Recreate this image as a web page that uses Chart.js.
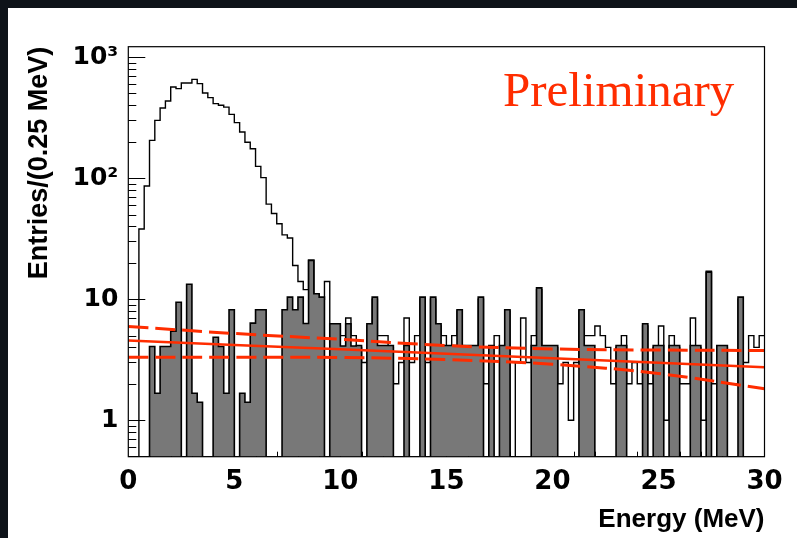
<!DOCTYPE html>
<html>
<head>
<meta charset="utf-8">
<script src="https://cdn.jsdelivr.net/npm/chart.js@4.4.1/dist/chart.umd.min.js"></script>
<style>
  html, body { margin: 0; padding: 0; background: #0e1319; }
  #frame { position: absolute; left: 8px; top: 8px; width: 789px; height: 530px; background: #ffffff; }
  canvas { display: block; }
</style>
</head>
<body>
<div id="frame"><canvas id="chart" width="789" height="530"></canvas></div>
<script>
// histogram binning (MeV)
const binWidth = 0.25;
const nBins = 120;

// all entries per 0.25 MeV bin (open histogram)
const totalCounts = [
  0, 0, 38, 86, 205, 300, 379, 433, 565, 548,
  610, 610, 654, 603, 504, 462, 412, 400, 386, 336,
  287, 240, 198, 175, 125, 101, 61, 51, 42, 34,
  32, 19, 14, 12, 21, 11, 10, 14, 6, 6,
  5, 7, 5, 4, 3, 6, 10, 5, 5, 4,
  2, 3, 7, 3, 5, 10, 3, 10, 6, 5,
  4, 5, 8, 4, 4, 4, 10, 2, 4, 5,
  4, 8, 0, 3, 7, 3, 5, 12, 4, 4,
  4, 2, 3, 1, 3, 8, 5, 5, 6, 5,
  4, 2, 4, 5, 2, 3, 2, 6, 2, 4,
  6, 1, 5, 4, 2, 2, 7, 4, 1, 17,
  2, 4, 4, 2, 2, 10, 3, 5, 4, 5
];

// filled (grey) histogram
const grayCounts = [
  0, 0, 0, 0, 4.07, 1.67, 4.07, 4.07, 5.44, 9.44,
  0, 13.3, 1.67, 1.41, 0, 0, 4.85, 4.07, 1.67, 8.17,
  0, 1.67, 1.41, 6.34, 8.17, 8.17, 0, 0, 0, 8.17,
  10.4, 8.17, 10.4, 6.3, 20.9, 11.1, 10.4, 0, 6.26, 6.26,
  4.1, 6.26, 4.1, 4.14, 0, 6.26, 10.4, 4.14, 4.14, 4.14,
  0, 0, 4.14, 0, 0, 10.4, 0, 10.4, 6.26, 4.14,
  4.14, 4.14, 8.17, 4.14, 4.14, 4.14, 10.4, 0, 4.14, 0,
  4.14, 8.17, 0, 0, 0, 0, 4.14, 12.4, 4.14, 4.14,
  4.14, 0, 0, 0, 0, 8.17, 4.14, 4.14, 0, 0,
  0, 0, 4.14, 4.14, 0, 0, 0, 6.26, 0, 4.14,
  4.14, 0, 4.14, 4.14, 0, 0, 4.14, 4.14, 0, 16.7,
  0, 4.14, 4.14, 0, 0, 10.4, 0, 0, 0, 0
];

// fit curve and its band, read at these energies
const fitEnergies = [0, 5, 10, 15, 20, 25, 30];
const fitCentral = [4.56, 4.19, 3.85, 3.54, 3.25, 2.99, 2.74];
const fitUpper = [5.95, 5.21, 4.66, 4.14, 3.88, 3.80, 3.77];
const fitLower = [3.32, 3.32, 3.30, 3.17, 2.90, 2.43, 1.82];

// axes
const xTicks = [0, 5, 10, 15, 20, 25, 30];
const yTicks = [1, 10, 100, 1000];
const yMin = 0.5;
const yMax = 1217;

const red = "#ff2d00";

function histSteps(values) {
  var pts = values.map(function (v, i) {
    return { x: i * binWidth, y: v > 0 ? v : yMin };
  });
  var last = values[values.length - 1];
  pts.push({ x: nBins * binWidth, y: last > 0 ? last : yMin });
  return pts;
}

function curve(values) {
  return values.map(function (v, i) {
    return { x: fitEnergies[i], y: v };
  });
}

function yLabel(v) {
  if (v === 1) return "1";
  if (v === 10) return "10";
  if (v === 100) return "10\u00b2";
  if (v === 1000) return "10\u00b3";
  return "";
}

// ROOT-like frame: ticks inside the box, drawn under the histograms
const rootFrame = {
  id: "rootFrame",
  beforeDatasetsDraw: function (chart) {
    var ctx = chart.ctx;
    var area = chart.chartArea;
    var xs = chart.scales.x;
    var ys = chart.scales.y;
    ctx.save();
    ctx.strokeStyle = "#000";
    ctx.lineWidth = 1;
    ctx.beginPath();
    for (var e = -1; e <= 3; e++) {
      for (var k = 1; k <= 9; k++) {
        var v = k * Math.pow(10, e);
        if (v <= yMin || v > yMax) continue;
        var py = Math.round(ys.getPixelForValue(v)) + 0.5;
        var len = k === 1 ? 17 : 8;
        ctx.moveTo(area.left, py);
        ctx.lineTo(area.left + len, py);
      }
    }
    for (var m = 1; m < 30; m++) {
      var px = Math.round(xs.getPixelForValue(m)) + 0.5;
      var l = m % 5 === 0 ? 12 : 5;
      ctx.moveTo(px, area.bottom);
      ctx.lineTo(px, area.bottom - l);
    }
    ctx.stroke();
    ctx.restore();
  },
  afterDatasetsDraw: function (chart) {
    var ctx = chart.ctx;
    var area = chart.chartArea;
    ctx.save();
    ctx.strokeStyle = "#000";
    ctx.lineWidth = 1.2;
    ctx.strokeRect(area.left, area.top, area.right - area.left, area.bottom - area.top);
    ctx.fillStyle = red;
    ctx.font = "49px 'Liberation Serif', serif";
    ctx.textBaseline = "alphabetic";
    ctx.fillText("Preliminary", 495, 98);
    ctx.restore();
  }
};

var ctx = document.getElementById("chart").getContext("2d");
var myChart = new Chart(ctx, {
  type: "line",
  data: {
    datasets: [
      {
        label: "fit",
        data: curve(fitCentral),
        borderColor: red,
        borderWidth: 2.5,
        pointRadius: 0,
        fill: false,
        order: 0
      },
      {
        label: "fit upper",
        data: curve(fitUpper),
        borderColor: red,
        borderWidth: 3,
        borderDash: [20, 7],
        tension: 0.4,
        pointRadius: 0,
        fill: false,
        order: 0
      },
      {
        label: "fit lower",
        data: curve(fitLower),
        borderColor: red,
        borderWidth: 3,
        borderDash: [20, 7],
        tension: 0.4,
        pointRadius: 0,
        fill: false,
        order: 0
      },
      {
        label: "grey",
        data: histSteps(grayCounts),
        stepped: "before",
        borderColor: "#000",
        borderWidth: 1.6,
        backgroundColor: "#787878",
        fill: "start",
        pointRadius: 0,
        order: 1
      },
      {
        label: "all",
        data: histSteps(totalCounts),
        stepped: "before",
        borderColor: "#000",
        borderWidth: 1.4,
        fill: false,
        pointRadius: 0,
        order: 2
      }
    ]
  },
  options: {
    responsive: false,
    animation: false,
    devicePixelRatio: 1,
    layout: { padding: { top: 38.7, right: 32.5, left: 0, bottom: 0 } },
    plugins: {
      legend: { display: false },
      tooltip: { enabled: false }
    },
    scales: {
      x: {
        type: "linear",
        min: 0,
        max: 30,
        afterBuildTicks: function (scale) {
          scale.ticks = xTicks.map(function (v) { return { value: v }; });
        },
        afterFit: function (scale) { scale.height = 81.3; },
        grid: { display: false, drawTicks: false },
        border: { display: false },
        ticks: {
          color: "#000",
          padding: 10,
          maxRotation: 0,
          font: { family: "'DejaVu Sans'", weight: "bold", size: 26 }
        },
        title: {
          display: true,
          text: "Energy (MeV)",
          align: "end",
          color: "#000",
          padding: { top: 0, bottom: 3 },
          font: { family: "'Liberation Sans'", weight: "bold", size: 26 }
        }
      },
      y: {
        type: "logarithmic",
        min: yMin,
        max: yMax,
        afterBuildTicks: function (scale) {
          scale.ticks = yTicks.map(function (v) { return { value: v }; });
        },
        afterFit: function (scale) { scale.width = 120.3; },
        grid: { display: false, drawTicks: false },
        border: { display: false },
        ticks: {
          color: "#000",
          padding: 10,
          callback: function (v) { return yLabel(v); },
          font: { family: "'DejaVu Sans'", weight: "bold", size: 25 }
        },
        title: {
          display: true,
          text: "Entries/(0.25 MeV)",
          align: "end",
          color: "#000",
          padding: { top: 15, bottom: 0 },
          font: { family: "'Liberation Sans'", weight: "bold", size: 27 }
        }
      }
    }
  },
  plugins: [rootFrame]
});
</script>
</body>
</html>
